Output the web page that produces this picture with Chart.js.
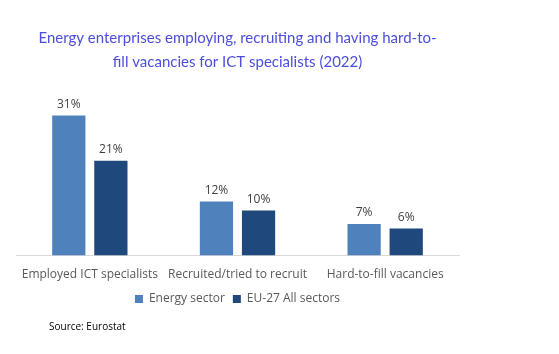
<!DOCTYPE html>
<html>
<head>
<meta charset="utf-8">
<script src="https://cdn.jsdelivr.net/npm/chart.js@4"></script>
<style>
  body { margin: 0; background: #fff; }
  #wrap { position: relative; width: 475px; height: 354px; }
  #source { position: absolute; left: 49px; top: 319px; font: 10px 'Open Sans', sans-serif; color: #000; }
</style>
</head>
<body>
<div id="wrap">
  <canvas id="chart-ict"></canvas>
  <div id="source">Source: Eurostat</div>
</div>
<script>
const categories = ['Employed ICT specialists', 'Recruited/tried to recruit', 'Hard-to-fill vacancies'];
const energySector = [31, 12, 7];
const euAllSectors = [21, 10, 6];

const ctxIct = document.getElementById('chart-ict');

// values above the bars
const barLabels = {
  id: 'barLabels',
  afterDatasetsDraw(chart) {
    const { ctx } = chart;
    ctx.save();
    ctx.font = "12px 'Open Sans', sans-serif";
    ctx.fillStyle = '#404040';
    ctx.textAlign = 'center';
    ctx.textBaseline = 'bottom';
    chart.data.datasets.forEach((ds, i) => {
      chart.getDatasetMeta(i).data.forEach((bar, index) => {
        ctx.fillText(ds.data[index] + '%', bar.x, bar.y - 5);
      });
    });
    ctx.restore();
  }
};

new Chart(ctxIct, {
  type: 'bar',
  data: {
    labels: categories,
    datasets: [{
      label: 'Energy sector',
      data: energySector,
      backgroundColor: '#4f81bd',
      barPercentage: 0.79,
      categoryPercentage: 0.57
    }, {
      label: 'EU-27 All sectors',
      data: euAllSectors,
      backgroundColor: '#1f497d',
      barPercentage: 0.79,
      categoryPercentage: 0.57
    }]
  },
  options: {
    responsive: true,
    maintainAspectRatio: false,
    animation: false,
    layout: { padding: { left: 16, right: 16, top: 0, bottom: 39 } },
    plugins: {
      title: {
        display: true,
        text: ['Energy enterprises employing, recruiting and having hard-to-', 'fill vacancies for ICT specialists (2022)'],
        color: '#4d4ddb',
        font: { family: "Lato, sans-serif", size: 15, weight: 'normal', lineHeight: 1.6 },
        padding: { top: 26, bottom: 19 }
      },
      legend: {
        position: 'bottom',
        labels: {
          boxWidth: 8,
          boxHeight: 8,
          color: '#595959',
          font: { family: "'Open Sans', sans-serif", size: 12 },
          padding: 8
        }
      },
      tooltip: { enabled: false }
    },
    scales: {
      x: {
        grid: { display: false, drawTicks: false },
        border: { color: '#d9d9d9' },
        ticks: { color: '#595959', font: { family: "'Open Sans', sans-serif", size: 12 }, padding: 12 },
        afterFit(scale) {
          // pull the legend closer to the tick labels
          scale.height -= 9;
        }
      },
      y: {
        display: false,
        min: 0,
        max: 36
      }
    }
  },
  plugins: [barLabels]
});
</script>
</body>
</html>
